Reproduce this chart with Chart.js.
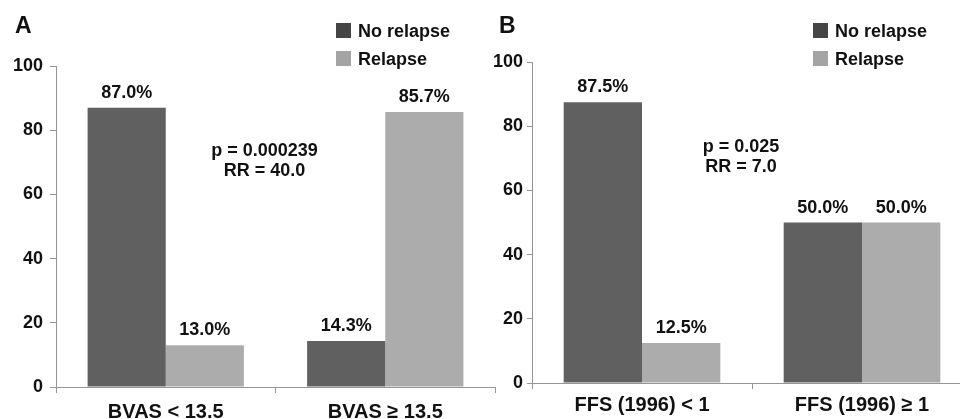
<!DOCTYPE html>
<html>
<head>
<meta charset="utf-8">
<script src="https://cdn.jsdelivr.net/npm/chart.js@4.4.1/dist/chart.umd.min.js"></script>
<style>
  html, body { margin: 0; padding: 0; background: #fff; width: 960px; height: 419px; overflow: hidden; }
  .panel { position: absolute; top: 0; width: 500px; height: 419px; }
  #panelA { left: 0; }
  #panelB { left: 480px; }
</style>
</head>
<body>
<div class="panel" id="panelA"><canvas id="cvA"></canvas></div>
<div class="panel" id="panelB"><canvas id="cvB"></canvas></div>
<script>
// --- data -------------------------------------------------------
const seriesNames = ["No relapse", "Relapse"];
const yTicks      = [0, 20, 40, 60, 80, 100];

const catsA       = ["BVAS < 13.5", "BVAS ≥ 13.5"];
const noRelapseA  = [87.0, 14.3];
const relapseA    = [13.0, 85.7];
const statsA      = ["p = 0.000239", "RR = 40.0"];

const catsB       = ["FFS (1996) < 1", "FFS (1996) ≥ 1"];
const noRelapseB  = [87.5, 50.0];
const relapseB    = [12.5, 50.0];
const statsB      = ["p = 0.025", "RR = 7.0"];

// --- style ------------------------------------------------------
const FONT      = '"Liberation Sans", Arial, Helvetica, sans-serif';
const INK       = "#111111";
const AXIS      = "#959595";
const BAR_DARK  = "#606060";
const BAR_LIGHT = "#acacac";
const LEG_DARK  = "#454545";
const LEG_LIGHT = "#a4a4a4";

// letter, legend, value labels and p / RR text
const panelDecor = {
  id: "panelDecor",
  afterDatasetsDraw(chart, args, o) {
    const { ctx, scales: { x, y } } = chart;
    ctx.save();
    ctx.fillStyle    = INK;
    ctx.textBaseline = "alphabetic";

    ctx.font      = `bold 23px ${FONT}`;
    ctx.textAlign = "left";
    ctx.fillText(o.letter, o.letterX, 33);

    ctx.font = `bold 18px ${FONT}`;
    [LEG_DARK, LEG_LIGHT].forEach((c, i) => {
      const top = 23 + i * 28;
      ctx.fillStyle = c;
      ctx.fillRect(o.legendX, top, 15, 15);
      ctx.fillStyle = INK;
      ctx.fillText(seriesNames[i], o.legendX + 22, top + 14);
    });

    ctx.textAlign = "center";
    chart.data.datasets.forEach((ds, di) => {
      chart.getDatasetMeta(di).data.forEach((bar, i) => {
        ctx.fillText(ds.data[i].toFixed(1) + "%", bar.x, bar.y - 10);
      });
    });

    const sx = x.getPixelForValue(o.statsAt);
    const sy = y.getPixelForValue(o.statsY);
    o.stats.forEach((t, k) => ctx.fillText(t, sx, sy + k * 20));
    ctx.restore();
  },
};

function makePanel(id, cats, noRel, rel, stats, g) {
  return new Chart(document.getElementById(id).getContext("2d"), {
    type: "bar",
    plugins: [panelDecor],
    data: {
      labels: cats,
      datasets: [
        { label: seriesNames[0], data: noRel, backgroundColor: BAR_DARK,  categoryPercentage: 0.712, barPercentage: 1 },
        { label: seriesNames[1], data: rel,   backgroundColor: BAR_LIGHT, categoryPercentage: 0.712, barPercentage: 1 },
      ],
    },
    options: {
      responsive: true, maintainAspectRatio: false, animation: false,
      layout: { padding: { top: g.padTop, right: g.padRight, left: 0, bottom: 0 } },
      plugins: {
        legend: { display: false },
        tooltip: { enabled: false },
        panelDecor: { letter: g.letter, letterX: g.letterX, legendX: g.legendX, stats, statsAt: 0.45, statsY: 72 },
      },
      scales: {
        x: {
          grid: { display: true, drawOnChartArea: false, drawTicks: true, tickLength: 6, color: AXIS, offset: true },
          border: { color: AXIS, width: 1 },
          ticks: { color: INK, font: { family: FONT, size: 20, weight: "bold" }, padding: g.xPad, maxRotation: 0, autoSkip: false },
          afterFit: (s) => { s.height = g.xHeight; },
        },
        y: {
          min: 0, max: 100,
          afterBuildTicks: (s) => { s.ticks = yTicks.map((v) => ({ value: v })); },
          grid: { display: true, drawOnChartArea: false, drawTicks: true, tickLength: g.yTick, color: AXIS },
          border: { color: AXIS, width: 1 },
          ticks: { color: INK, font: { family: FONT, size: 18, weight: "bold" }, padding: g.yPad },
          afterFit: (s) => { s.width = g.yWidth; },
        },
      },
    },
  });
}

makePanel("cvA", catsA, noRelapseA, relapseA, statsA,
  { letter: "A", letterX: 15, legendX: 336, padTop: 66, padRight: 5, xHeight: 32, xPad: 7, yWidth: 56, yTick: 6, yPad: 7 });
makePanel("cvB", catsB, noRelapseB, relapseB, statsB,
  { letter: "B", letterX: 19, legendX: 333, padTop: 62, padRight: 8, xHeight: 36, xPad: 4, yWidth: 52, yTick: 5, yPad: 4 });
</script>
</body>
</html>
